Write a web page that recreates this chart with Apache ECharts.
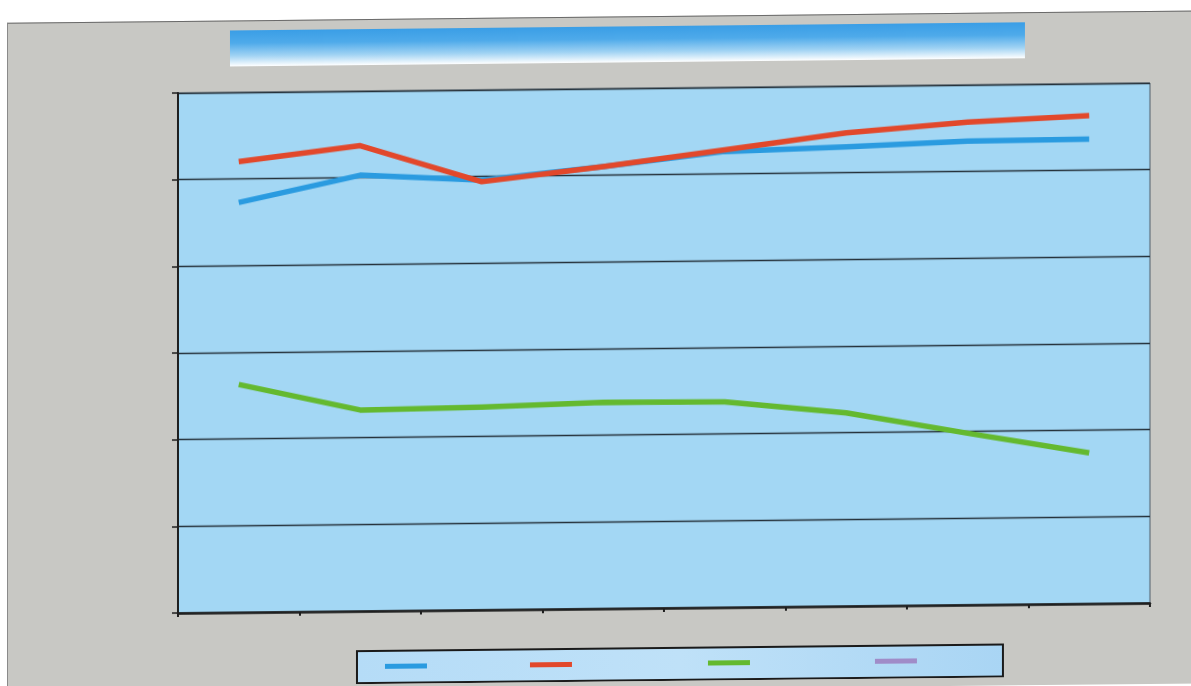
<!DOCTYPE html>
<html>
<head>
<meta charset="utf-8">
<script src="https://cdn.jsdelivr.net/npm/echarts@6/dist/echarts.min.js"></script>
<style>
  html, body { margin: 0; padding: 0; background: #ffffff; overflow: hidden; }
  #sheet {
    position: absolute; left: 0; top: 0; width: 1191px; height: 686px;
    transform: skewY(-0.59deg); transform-origin: 178px 613px;
  }
  #frame {
    position: absolute; left: 7px; top: 21px; width: 1220px; height: 672px;
    background: #c8c8c4; border-top: 1px solid #6a6a6a; border-left: 1px solid #8a8a8a;
  }
  #chart { position: absolute; left: 0; top: 0; width: 1191px; height: 686px; }
</style>
</head>
<body>
<div id="sheet">
  <div id="frame"></div>
  <div id="chart"></div>
</div>
<script>
// Eight periods along the category axis
const categories = ['1', '2', '3', '4', '5', '6', '7', '8'];

// Series values (axis runs 0..6 with six bands)
const seriesNames = ['Series 1', 'Series 2', 'Series 3', 'Series 4'];
const blueValues   = [4.73, 5.03, 4.96, 5.10, 5.26, 5.30, 5.35, 5.36];
const redValues    = [5.20, 5.37, 4.94, 5.10, 5.28, 5.46, 5.57, 5.63];
const greenValues  = [2.63, 2.32, 2.34, 2.38, 2.37, 2.23, 1.98, 1.74];
const purpleValues = [];

const colors = ['#2a9be0', '#e2482b', '#64b92f', '#a08cc8'];
const legendLeft = [385, 530, 708, 875];

const chart = echarts.init(document.getElementById('chart'), null, { renderer: 'canvas' });

const valueSets = [blueValues, redValues, greenValues, purpleValues];

chart.setOption({
  backgroundColor: 'transparent',
  animation: false,
  grid: {
    left: 178, top: 93, width: 972, height: 520,
    show: true, backgroundColor: '#a3d7f4',
    borderColor: '#4a5a66', borderWidth: 1
  },
  xAxis: {
    type: 'category',
    data: categories,
    boundaryGap: true,
    axisLine: { lineStyle: { color: '#1e1e1e', width: 2.5 } },
    axisTick: { show: true, length: 4, lineStyle: { color: '#1e1e1e', width: 2 } },
    axisLabel: { show: false },
    splitLine: { show: false }
  },
  yAxis: {
    type: 'value',
    min: 0, max: 6, interval: 1,
    axisLine: { show: true, lineStyle: { color: '#1e1e1e', width: 2 } },
    axisTick: { show: true, length: 6, lineStyle: { color: '#1e1e1e', width: 1.5 } },
    axisLabel: { show: false },
    splitLine: { show: true, lineStyle: { color: '#25313a', width: 1.4 } }
  },
  legend: seriesNames.map((name, i) => ({
    data: [name],
    left: legendLeft[i],
    top: 666,
    padding: 0,
    itemWidth: 42,
    itemHeight: 5,
    icon: 'rect',
    selectedMode: false,
    formatter: () => '',
    textStyle: { fontSize: 1 }
  })),
  graphic: [
    {
      type: 'rect', z: -1,
      shape: { x: 230, y: 31, width: 795, height: 36 },
      style: {
        fill: new echarts.graphic.LinearGradient(0, 0, 0, 1, [
          { offset: 0, color: '#3a9ee6' },
          { offset: 0.35, color: '#4eaaea' },
          { offset: 0.7, color: '#9fd2f3' },
          { offset: 1, color: '#ffffff' }
        ])
      }
    },
    {
      type: 'rect', z: -1,
      shape: { x: 357, y: 653, width: 646, height: 32 },
      style: {
        fill: new echarts.graphic.LinearGradient(0, 0, 1, 0, [
          { offset: 0, color: '#b5dcf7' },
          { offset: 0.5, color: '#bfe1f8' },
          { offset: 1, color: '#a9d5f4' }
        ]),
        stroke: '#1a1a1a', lineWidth: 2
      }
    }
  ],
  series: seriesNames.map((name, i) => ({
    name: name,
    type: 'line',
    data: valueSets[i],
    color: colors[i],
    symbol: 'none',
    lineStyle: { width: 5.5, color: colors[i], cap: 'butt', join: 'round' },
    z: 2 + i
  }))
});
</script>
</body>
</html>
